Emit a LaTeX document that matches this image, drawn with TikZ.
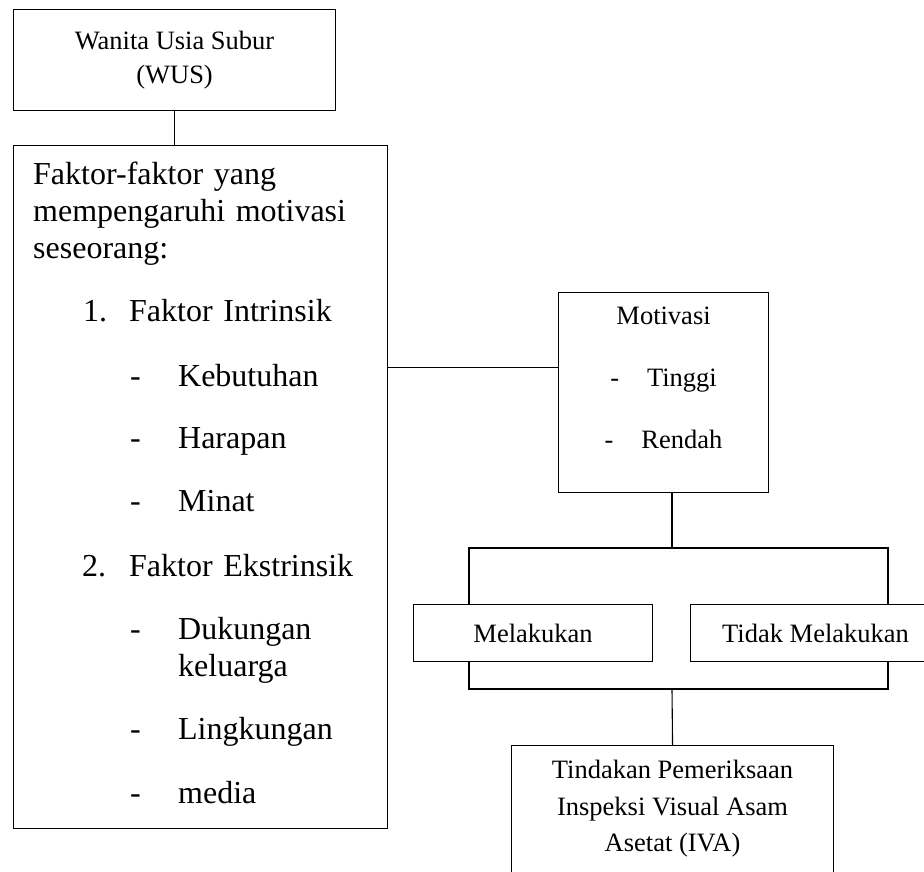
\documentclass[tikz,border=0pt]{standalone}
\usepackage{fontspec}
\setmainfont{Liberation Serif}
\usetikzlibrary{positioning,calc}

\begin{document}
\begin{tikzpicture}
  [x=1pt, y=-1pt,
   box/.style={rectangle, draw=black, line width=1.1pt, inner sep=0pt},
   txt/.style={font=\fontsize{26.5}{34}\selectfont, align=center, inner sep=0pt},
   bigtxt/.style={font=\fontsize{32}{37}\selectfont, align=left,
     text width=340pt, inner sep=0pt},
   link/.style={draw=black, line width=1.1pt},
   node distance=34pt]

  \useasboundingbox (0,0) rectangle (924,872);

  % kotak kiri
  \node[box, txt, minimum width=322pt, minimum height=101pt, anchor=north west]
    (wus) at (13,9) {Wanita Usia Subur\\(WUS)};
  \node[box, minimum width=374pt, minimum height=683pt,
    below=of wus.south west, anchor=north west] (faktor) {};
  \node[bigtxt, anchor=north west] (faktorlist)
    at ($(faktor.north west)+(20,17)$)
    {Faktor-faktor yang\\
     mempengaruhi motivasi\\
     seseorang:\\[26pt]
     \hspace*{50pt}\makebox[46pt][l]{1.}Faktor Intrinsik\\[28pt]
     \hspace*{97pt}\makebox[48pt][l]{-}Kebutuhan\\[25pt]
     \hspace*{97pt}\makebox[48pt][l]{-}Harapan\\[26pt]
     \hspace*{97pt}\makebox[48pt][l]{-}Minat\\[28pt]
     \hspace*{49pt}\makebox[47pt][l]{2.}Faktor Ekstrinsik\\[26pt]
     \hspace*{97pt}\makebox[48pt][l]{-}Dukungan\\
     \hspace*{145pt}keluarga\\[26pt]
     \hspace*{97pt}\makebox[48pt][l]{-}Lingkungan\\[27pt]
     \hspace*{97pt}\makebox[48pt][l]{-}media};

  % motivasi
  \node[box, minimum width=210pt, minimum height=200pt, anchor=north west]
    (motivasi) at (558,292) {};
  \node[txt, font=\fontsize{26.5}{31}\selectfont, anchor=north] (motivasilist)
    at ($(motivasi.north)+(0,15)$)
    {Motivasi\\[31pt]
     -\hspace{28pt}Tinggi\\[31pt]
     -\hspace{28pt}Rendah};

  % tindakan
  \node[box, txt, minimum width=239pt, minimum height=57pt, anchor=north west]
    (melakukan) at (413,604) {Melakukan};
  \node[box, txt, minimum width=250pt, minimum height=57pt, anchor=north west]
    (tidak) at (690,604) {Tidak Melakukan};
  \node[box, minimum width=322pt, minimum height=140pt, anchor=north west]
    (iva) at (511,745) {};
  \node[txt, font=\fontsize{26.5}{36.5}\selectfont, anchor=north] (ivatext)
    at ($(iva.north)+(0,15)$)
    {Tindakan Pemeriksaan\\Inspeksi Visual Asam\\Asetat (IVA)};

  \coordinate (split) at (672,548);
  \coordinate (lbranch) at (469,548);
  \coordinate (rbranch) at (888,548);
  \coordinate (lfoot) at (469,689);
  \coordinate (rfoot) at (888,689);
  \coordinate (join) at (672,689);

  \draw[link] (wus.south) -- (wus.south |- faktor.north);
  \draw[link] ([yshift=25pt]motivasi.west) -- ([yshift=25pt]motivasi.west -| faktor.east);
  \draw[link] (split |- motivasi.south) -- (split);
  \draw[link] (lbranch |- melakukan.north) -- (lbranch) -- (rbranch)
    -- (rbranch |- tidak.north);
  \draw[link] (lbranch |- melakukan.south) -- (lfoot) -- (rfoot)
    -- (rbranch |- tidak.south);
  \draw[link] (join) -- (iva.north);
\end{tikzpicture}
\end{document}
